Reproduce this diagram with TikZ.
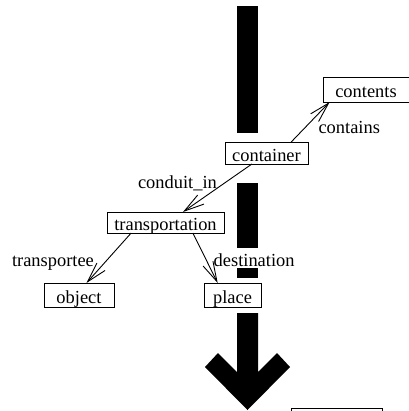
\documentclass[tikz,border=0pt]{standalone}
\usepackage{fontspec}
\setmainfont{Liberation Serif}
\usetikzlibrary{arrows.meta}

\begin{document}
\begin{tikzpicture}[x=1bp, y=-1bp, line width=0.9bp,
    every node/.style={font=\fontsize{18.5}{20}\selectfont}]
    % Styles
    \tikzset{concept/.style={rectangle, draw=black, inner sep=0pt, outer sep=0pt, minimum height=23bp, text height=16bp, text depth=0pt, fill=white},
             link/.style={-{Straight Barb[length=20bp, width=11bp]}},
             lbl/.style={inner sep=0pt}}
    \useasboundingbox (0,0) rectangle (409,411);

    % Thick bar
    \foreach \ya/\yb in {6/133, 183/248, 268/278}
        \fill (237,\ya) rectangle (258,\yb);
    \fill (237,313) -- (258,313) -- (258,372) -- (277,353) -- (290,367) -- (247.5,410)
        -- (205,367) -- (218,353) -- (237,372) -- cycle;

    % Nodes
    \node[concept, minimum width=83bp, minimum height=22bp] (container) at (266.5,153) {container};
    \node[concept, minimum width=86bp, minimum height=25bp] (contents) at (366,89.5) {contents};
    \node[concept, minimum width=117bp, minimum height=21bp] (transportation) at (165.5,222.5) {transportation};
    \node[concept, minimum width=70bp, minimum height=24bp] (object) at (79,295) {object};
    \node[concept, minimum width=57bp, minimum height=24bp] (place) at (232.5,295) {place};
    \node[concept, minimum width=91bp, minimum height=24bp] (extra) at (336.5,420) {};

    % Arrows
    \draw[link] (container.24) -- node[lbl, pos=0.36, anchor=west, xshift=13bp] {contains} (contents.199);
    \draw[link] (container.217) -- node[lbl, pos=0.4, anchor=east, xshift=-7bp] {conduit\_in} (transportation.31);
    \draw[link] (transportation.197) -- node[lbl, pos=0.6, anchor=east, xshift=-10bp] {transportee} (object.58);
    \draw[link] (transportation.339) -- node[lbl, pos=0.54, anchor=west, xshift=7bp] {destination} (place.141);
\end{tikzpicture}
\end{document}
